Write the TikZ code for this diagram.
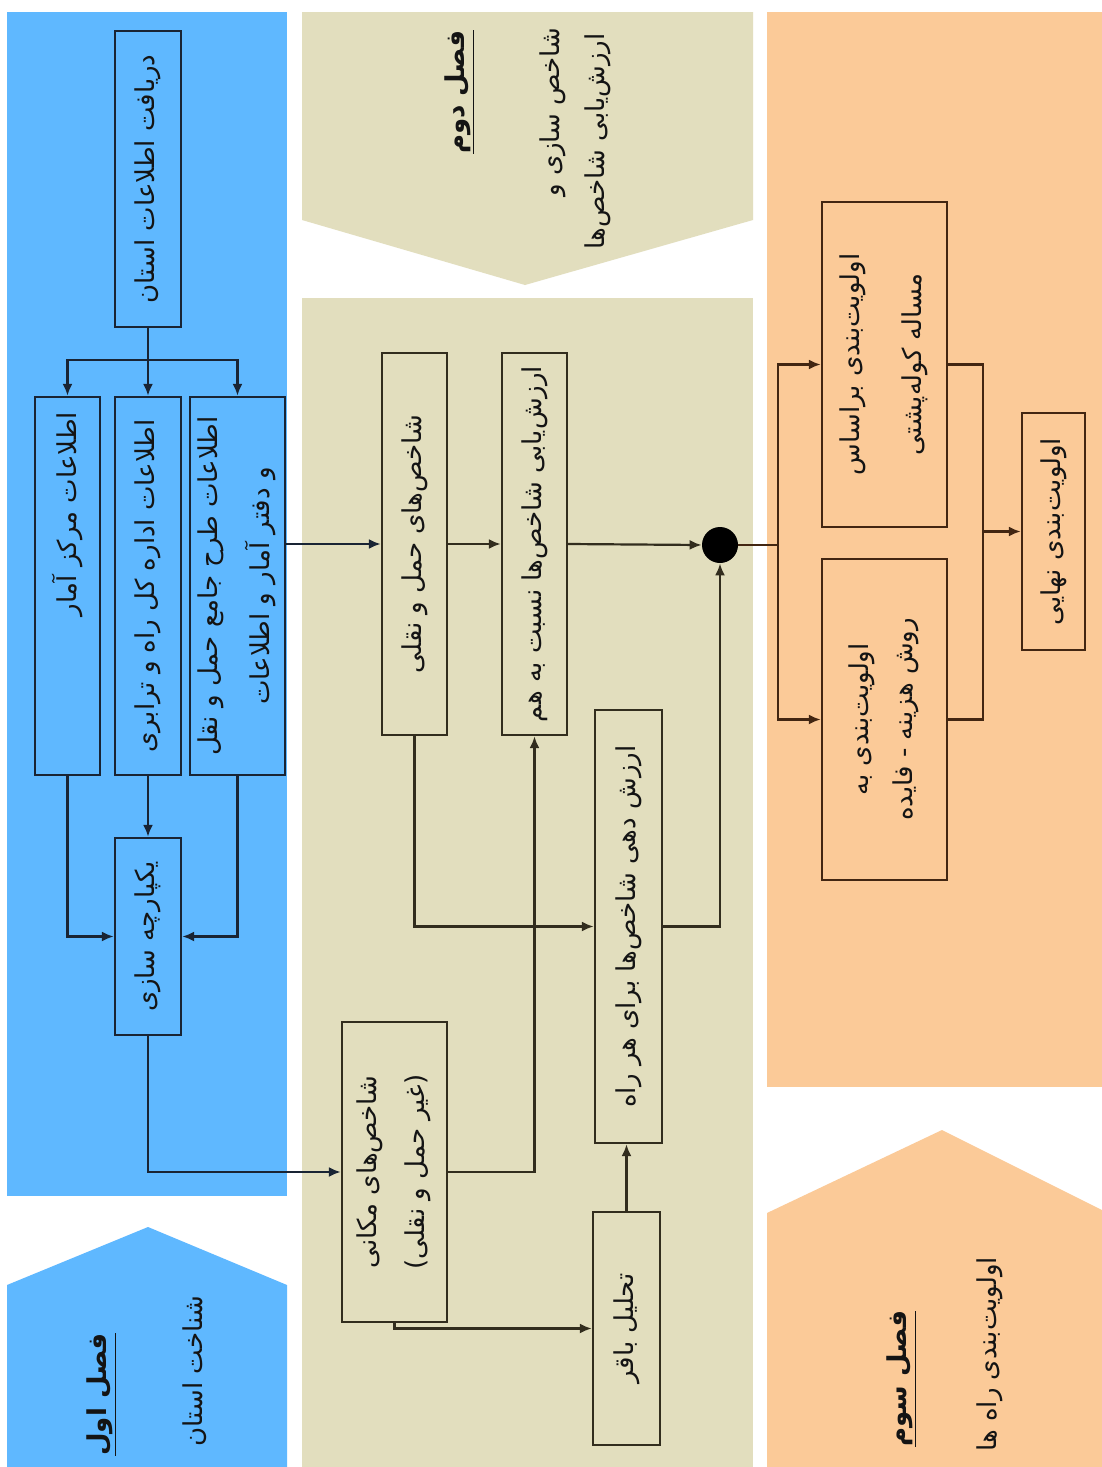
\documentclass[tikz,border=0pt]{standalone}
\usepackage{fontspec}
\usepackage{graphicx}
\usetikzlibrary{arrows.meta}
\TeXXeTstate=1
\newfontfamily\fa[Script=Arabic]{DejaVu Sans}
\newcommand{\rone}[1]{\rotatebox{90}{\makebox[0pt]{#1}}}
\newcommand{\rtwo}[3]{\rotatebox{90}{\makebox[0pt]{\begin{tabular}{@{}c@{}}#2\\[#1]#3\end{tabular}}}}
\definecolor{blueA}{RGB}{95,184,255}
\definecolor{beigeA}{RGB}{226,222,190}
\definecolor{orangeA}{RGB}{251,202,152}
\definecolor{lineB}{RGB}{25,36,52}
\definecolor{lineC}{RGB}{50,45,30}
\definecolor{lineD}{RGB}{66,38,18}
\definecolor{txt}{RGB}{20,20,20}
\begin{document}
\begin{tikzpicture}[x=0.5pt,y=-0.5pt,
  boxb/.style={draw=lineB,line width=1.2pt,inner sep=0pt,text=txt,font=\fa\fontsize{13}{16}\selectfont},
  boxc/.style={draw=lineC,line width=1.2pt,inner sep=0pt,text=txt,font=\fa\fontsize{13}{16}\selectfont},
  boxd/.style={draw=lineD,line width=1.2pt,inner sep=0pt,text=txt,font=\fa\fontsize{13}{16}\selectfont},
  arr/.style={-{Latex[length=6pt,width=5pt]}},
  conb/.style={draw=lineB,line width=1.1pt},
  conc/.style={draw=lineC,line width=1.1pt},
  cond/.style={draw=lineD,line width=1.1pt},
  hdr/.style={rotate=90,inner sep=0pt,text=txt,font=\fa\fontsize{13}{16}\selectfont},
  hdrb/.style={hdr,font=\fa\bfseries\fontsize{13}{16}\selectfont}]
\useasboundingbox (0,0) rectangle (1102,1467);
\fill[white] (0,0) rectangle (1102,1467);
% section backgrounds
\fill[blueA] (7,12) rectangle (287,1196);
\fill[blueA] (7,1285) -- (148,1227) -- (287,1285) -- (287,1467) -- (7,1467) -- cycle;
\fill[beigeA] (302,12) -- (753,12) -- (753,220) -- (525,285) -- (302,220) -- cycle;
\fill[beigeA] (302,298) rectangle (753,1467);
\fill[orangeA] (767,12) rectangle (1102,1087);
\fill[orangeA] (767,1213) -- (942,1130) -- (1102,1210) -- (1102,1467) -- (767,1467) -- cycle;

% headers
\node[hdrb,anchor=west] (h1a) at (102,1456) {\underline{\beginR فصل اول\endR}};
\node[hdr,anchor=west] (h1b) at (195,1447) {\beginR شناخت استان\endR};
\node[hdrb,anchor=east] (h2a) at (460,30) {\underline{\beginR فصل دوم\endR}};
\node[hdr,anchor=east] (h2b) at (553,27) {\beginR شاخص سازی و\endR};
\node[hdr,anchor=east] (h2c) at (598,33) {\beginR ارزش^^^^200cیابی شاخص^^^^200cها\endR};
\node[hdrb,anchor=west] (h3a) at (902,1447) {\underline{\beginR فصل سوم\endR}};
\node[hdr,anchor=west] (h3b) at (990,1452) {\beginR اولویت^^^^200cبندی راه ها\endR};

% section 1 boxes
\node[boxb,minimum width=33pt,minimum height=148pt] (B0) at (148,179) {\rone{\beginR دریافت اطلاعات استان\endR}};
\node[boxb,minimum width=32.5pt,minimum height=189pt] (B1) at (67.5,586) {\rotatebox{90}{\makebox[174pt][r]{\beginR اطلاعات مرکز آمار\endR}}};
\node[boxb,minimum width=33pt,minimum height=189pt] (B2) at (148,586) {\rone{\beginR اطلاعات اداره کل راه و ترابری\endR}};
\node[boxb,minimum width=47.5pt,minimum height=189pt] (B3) at (237.5,586) {\rtwo{9pt}{\beginR اطلاعات طرح جامع حمل و نقل\endR}{\beginR و دفتر آمار و اطلاعات\endR}};
\node[boxb,minimum width=33pt,minimum height=98.5pt] (B4) at (148,936.5) {\rone{\beginR یکپارچه سازی\endR}};

% section 2 boxes
\node[boxc,minimum width=32.5pt,minimum height=191pt] (C1) at (414.5,544) {\rone{\beginR شاخص^^^^200cهای حمل و نقلی\endR}};
\node[boxc,minimum width=32.5pt,minimum height=191pt] (C2) at (534.5,544) {\rone{\beginR ارزش^^^^200cیابی شاخص^^^^200cها نسبت به هم\endR}};
\node[circle,fill=black,minimum size=18pt,inner sep=0pt] (J) at (720,545) {};
\node[boxc,minimum width=33.5pt,minimum height=216.5pt] (C3) at (628.5,926.5) {\rone{\beginR ارزش دهی شاخص^^^^200cها برای هر راه\endR}};
\node[boxc,minimum width=52.5pt,minimum height=150pt] (C4) at (394.5,1172) {\rtwo{8pt}{\beginR شاخص^^^^200cهای مکانی\endR}{\beginR (غیر حمل و نقلی)\endR}};
\node[boxc,minimum width=33.5pt,minimum height=116.5pt] (C5) at (626.5,1328.5) {\rone{\beginR تحلیل باقر\endR}};

% section 3 boxes
\node[boxd,minimum width=62.5pt,minimum height=162.5pt] (D1) at (884.5,364.5) {\rtwo{15pt}{\beginR اولویت^^^^200cبندی براساس\endR}{\beginR مساله کوله^^^^200cپشتی\endR}};
\node[boxd,minimum width=62.5pt,minimum height=160.5pt] (D2) at (884.5,719.5) {\rtwo{6pt}{\beginR اولویت^^^^200cبندی به\endR}{\beginR روش هزینه - فایده\endR}};
\node[boxd,minimum width=31.5pt,minimum height=118.5pt] (D3) at (1053.5,531.5) {\rone{\beginR اولویت^^^^200cبندی نهایی\endR}};

% connectors section 1
\coordinate (s0) at (148,360);
\draw[conb] (B0.south) -- (s0);
\draw[conb,arr] (s0) -| (B1.north);
\draw[conb,arr] (s0) -- (B2.north);
\draw[conb,arr] (s0) -| (B3.north);
\draw[conb,arr] (B2.south) -- (B4.north);
\draw[conb,arr] (B1.south) |- (B4.west);
\draw[conb,arr] (B3.south) |- (B4.east);
\draw[conb,arr] (B4.south) |- (C4.west);
\draw[conb,arr] (B3.east |- C1.west) -- (C1.west);

% connectors section 2
\draw[conc,arr] (C1.east) -- (C2.west);
\draw[conc,arr] (C2.east) -- (J.west);
\draw[conc,arr] (C1.south) |- (C3.west);
\draw[conc,arr] (C4.east) -| (C2.south);
\draw[conc,arr] (C3.east) -| (J.south);
\draw[conc,arr] (C4.south) |- (C5.west);
\draw[conc,arr] (C5.north) -- (C5.north |- C3.south);

% connectors section 3
\coordinate (s1) at (778,545);
\coordinate (s2) at (983,531.5);
\draw[cond] (J.east) -- (s1);
\draw[cond,arr] (s1) |- (D1.west);
\draw[cond,arr] (s1) |- (D2.west);
\draw[cond] (D1.east) -| (s2);
\draw[cond] (D2.east) -| (s2);
\draw[cond,arr] (s2) -- (D3.west);
\end{tikzpicture}
\end{document}
